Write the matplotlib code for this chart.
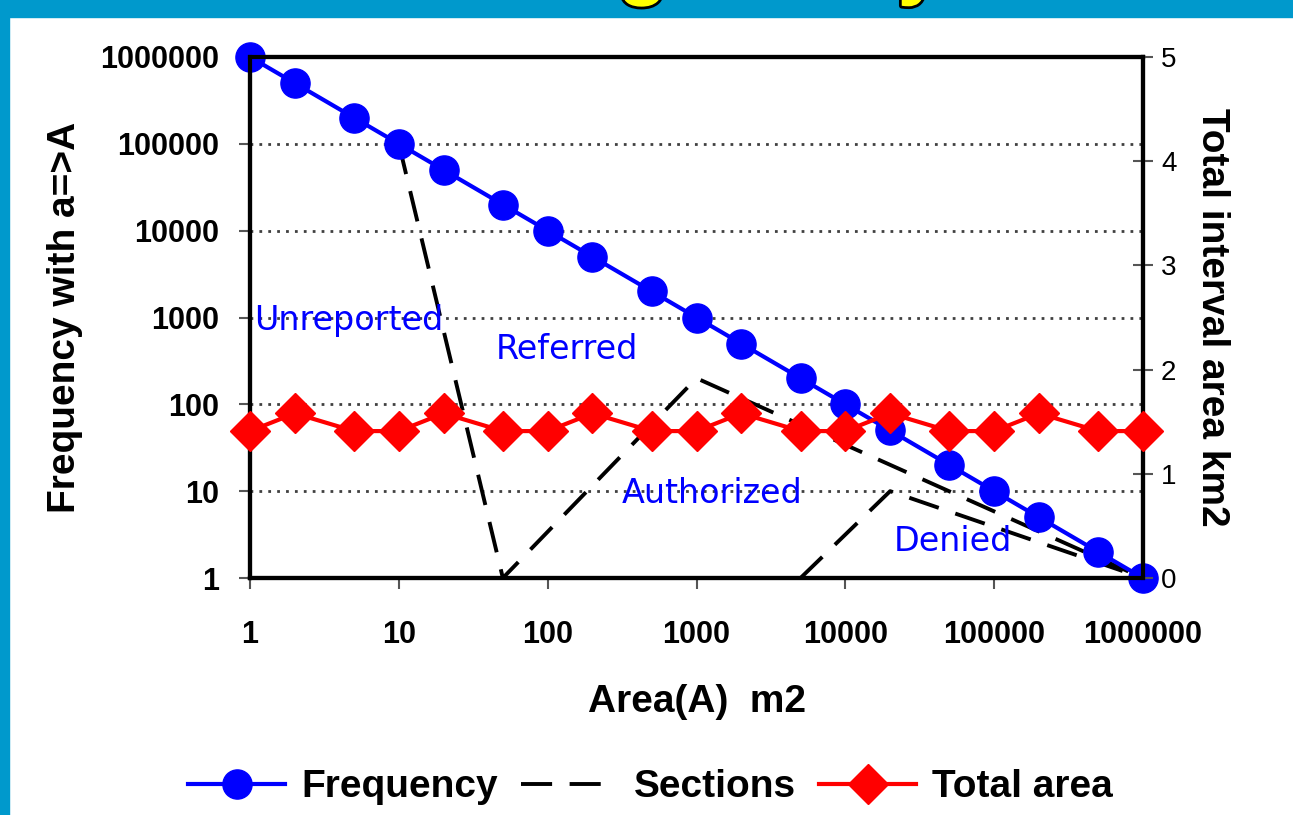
import matplotlib.pyplot as plt
import matplotlib.patheffects as pe
from matplotlib.patches import Rectangle

# data
area = [1, 2, 5, 10, 20, 50, 100, 200, 500, 1000, 2000, 5000,
        10000, 20000, 50000, 100000, 200000, 500000, 1000000]
frequency = [1000000, 500000, 200000, 100000, 50000, 20000, 10000, 5000, 2000, 1000,
             500, 200, 100, 50, 20, 10, 5, 2, 1]
total_area = [1.41, 1.58, 1.41, 1.41, 1.58, 1.41, 1.41, 1.58, 1.41, 1.41,
              1.58, 1.41, 1.41, 1.58, 1.41, 1.41, 1.58, 1.41, 1.41]
section_x = [10, 50, 1000, 1000000, 5000, 20000, 1000000]
section_y = [100000, 1, 200, 1, 1, 10, 1]
decades = [1, 10, 100, 1000, 10000, 100000, 1000000]
decade_labels = ['1', '10', '100', '1000', '10000', '100000', '1000000']

plt.rcParams['font.family'] = 'Liberation Sans'

fig = plt.figure(figsize=(12.93, 8.15), dpi=100)
fig.patch.set_facecolor('white')

# blue frame of the slide
fig.patches.append(Rectangle((0, 0), 9 / 1293, 1, transform=fig.transFigure,
                             color='#0099cc', zorder=0))
fig.patches.append(Rectangle((0, 1 - 17 / 815), 1, 17 / 815, transform=fig.transFigure,
                             color='#0099cc', zorder=0))
# bits of the cut-off slide title
for xt, ch in [(0.497, 'g'), (0.712, 'y')]:
    fig.text(xt, 1 + 11 / 815, ch, fontsize=60, fontweight='bold', color='#ffff00',
             ha='center', va='baseline',
             path_effects=[pe.withStroke(linewidth=4, foreground='black')])

ax = fig.add_axes([250 / 1293, 1 - 578 / 815, 893 / 1293, 521 / 815])
ax.set_xscale('log')
ax.set_yscale('log')
ax.set_xlim(1, 1000000)
ax.set_ylim(1, 1000000)

for y in decades[1:]:
    ax.axhline(y, color='#404040', lw=2, ls=(0, (1, 2.2)), zorder=1)

ax.plot(section_x, section_y, color='black', lw=2.8, ls=(0, (8, 4.5)), zorder=3,
        label='Sections')
ax.plot(area, frequency, color='#0000ff', lw=3, marker='o', markersize=21,
        clip_on=False, zorder=4, label='Frequency')

ax.set_xticks(decades)
ax.set_xticklabels(decade_labels)
ax.set_yticks(decades)
ax.set_yticklabels(decade_labels)
ax.minorticks_off()
ax.tick_params(axis='x', direction='out', length=8, width=1.5, color='#555555',
               pad=22, labelsize=22)
ax.tick_params(axis='y', direction='out', length=8, width=1.5, color='#555555',
               pad=14, labelsize=22)
for lab in ax.get_xticklabels() + ax.get_yticklabels():
    lab.set_fontweight('bold')
for s in ax.spines.values():
    s.set_linewidth(3)

ax.set_xlabel('Area(A)  m2', fontsize=28, fontweight='bold')
ax.xaxis.set_label_coords(0.5, -0.203)
ax.set_ylabel('Frequency with a=>A', fontsize=28, fontweight='bold')
ax.yaxis.set_label_coords(-0.187, 0.5)

ax2 = ax.twinx()
ax2.set_ylim(0, 5)
ax2.plot(area, total_area, color='#ff0000', lw=3, marker='D', markersize=20,
         clip_on=False, zorder=5, label='Total area')
ax2.set_yticks([0, 1, 2, 3, 4, 5])
ax2.tick_params(axis='y', direction='inout', length=14, width=1.5, color='#555555',
                pad=6, labelsize=20)
for s in ax2.spines.values():
    s.set_linewidth(3)
ax2.set_ylabel('Total interval area km2', fontsize=28, fontweight='bold', rotation=-90,
               va='center')
ax2.yaxis.set_label_coords(1.077, 0.5)

# section labels
note = dict(color='#0000ff', fontsize=24, family='DejaVu Sans', ha='center', va='center')
ax.text(0.111, 0.495, 'Unreported', transform=ax.transAxes, **note)
ax.text(0.355, 0.438, 'Referred', transform=ax.transAxes, **note)
ax.text(0.517, 0.163, 'Authorized', transform=ax.transAxes, **note)
ax.text(0.787, 0.071, 'Denied', transform=ax.transAxes, **note)

h1, l1 = ax.get_legend_handles_labels()
h2, l2 = ax2.get_legend_handles_labels()
handles = [h1[1], h1[0], h2[0]]
labels = [l1[1], l1[0], l2[0]]
leg = fig.legend(handles, labels, loc='center', bbox_to_anchor=(0.503, 0.034), ncol=3,
                 frameon=False, handlelength=2.5, handletextpad=0.4, columnspacing=0.6,
                 prop={'family': 'Liberation Sans', 'weight': 'bold', 'size': 28})

fig.savefig('out.png', dpi=100)
